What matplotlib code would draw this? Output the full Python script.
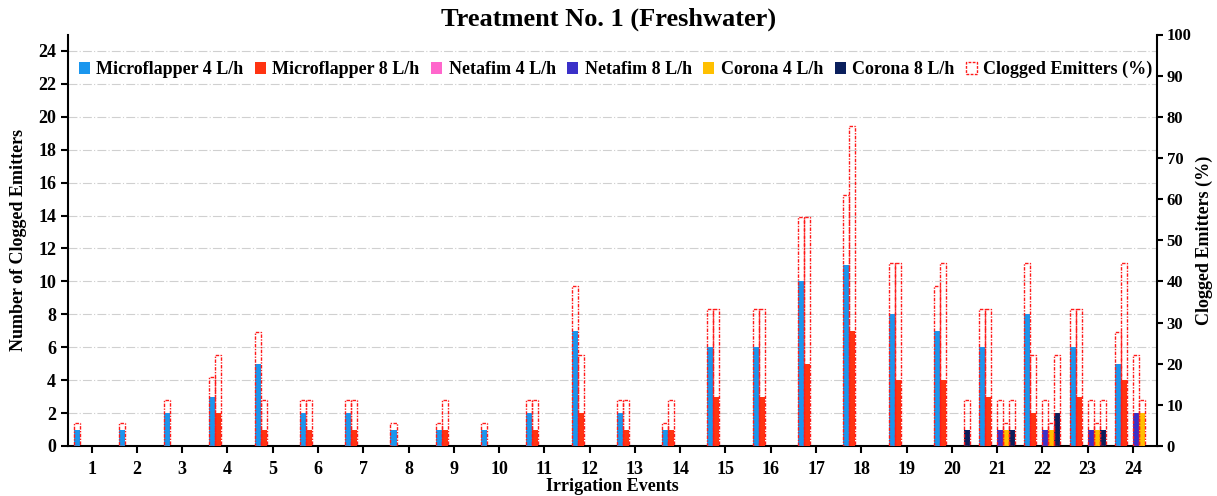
import matplotlib
matplotlib.use("Agg")
import matplotlib.pyplot as plt
import numpy as np
from matplotlib.patches import Patch

plt.rcParams['font.family'] = ['Liberation Serif', 'DejaVu Serif']
plt.rcParams['font.weight'] = 'bold'

events = [str(i) for i in range(1, 25)]
series_names = ["Microflapper 4 L/h", "Microflapper 8 L/h", "Netafim 4 L/h",
                "Netafim 8 L/h", "Corona 4 L/h", "Corona 8 L/h"]
colors = ["#1a96ee", "#ff3311", "#ff66cc", "#3a30c8", "#ffc000", "#0a1f5c"]

mf4 = [1, 1, 2, 3, 5, 2, 2, 1, 1, 1, 2, 7, 2, 1, 6, 6, 10, 11, 8, 7, 6, 8, 6, 5]
mf8 = [0, 0, 0, 2, 1, 1, 1, 0, 1, 0, 1, 2, 1, 1, 3, 3, 5, 7, 4, 4, 3, 2, 3, 4]
nf4 = [0] * 24
nf8 = [0] * 20 + [1, 1, 1, 2]
co4 = [0] * 20 + [1, 1, 1, 2]
co8 = [0] * 19 + [1, 1, 2, 1, 0]

mf4_pct = [5.6, 5.6, 11.1, 16.7, 27.8, 11.1, 11.1, 5.6, 5.6, 5.6, 11.1, 38.9,
           11.1, 5.6, 33.3, 33.3, 55.6, 61.1, 44.4, 38.9, 33.3, 44.4, 33.3, 27.8]
mf8_pct = [0, 0, 0, 22.2, 11.1, 11.1, 11.1, 0, 11.1, 0, 11.1, 22.2,
           11.1, 11.1, 33.3, 33.3, 55.6, 77.8, 44.4, 44.4, 33.3, 22.2, 33.3, 44.4]
nf4_pct = [0] * 24
nf8_pct = [0] * 20 + [11.1, 11.1, 11.1, 22.2]
co4_pct = [0] * 20 + [5.6, 5.6, 5.6, 11.1]
co8_pct = [0] * 19 + [11.1, 11.1, 22.2, 11.1, 0]

counts = [mf4, mf8, nf4, nf8, co4, co8]
pcts = [mf4_pct, mf8_pct, nf4_pct, nf8_pct, co4_pct, co8_pct]

fig = plt.figure(figsize=(12.17, 4.96), dpi=100)
ax = fig.add_axes([68 / 1217, 1 - 446 / 496, (1157 - 68) / 1217, (446 - 34.5) / 496])
ax2 = ax.twinx()

x = np.arange(1, 25)
w = 0.1326
for j, (vals, c, name) in enumerate(zip(counts, colors, series_names)):
    ax.bar(x + (j - 2.5) * w, vals, width=w, color=c, label=name, zorder=3)

for j, vals in enumerate(pcts):
    v = np.array(vals, dtype=float)
    m = v > 0
    ax2.bar(x[m] + (j - 2.5) * w, v[m], width=w, facecolor='none',
            edgecolor='#ff1a1a', linestyle=(0, (2.5, 1, 1, 1)), linewidth=1.0, zorder=4)

ax.set_xlim(0.48, 24.53)
ax.set_ylim(0, 25)
ax2.set_ylim(0, 100)
ax.set_yticks(np.arange(0, 25, 2))
ax2.set_yticks(np.arange(0, 101, 10))
ax.set_xticks(x)
ax.set_xticklabels(events)

ax.yaxis.grid(True, color='#d0d0d0', linestyle=(0, (8, 2, 1, 2)), linewidth=0.8, zorder=0)
ax.set_axisbelow(True)

for a in (ax, ax2):
    a.spines['top'].set_visible(False)
    for s in ('left', 'right', 'bottom'):
        a.spines[s].set_linewidth(1.5)
    a.tick_params(axis='both', labelsize=13, width=1.5, length=5, direction='out')
ax2.tick_params(axis='y', labelsize=12, length=4, pad=3)
ax.spines['right'].set_visible(False)
ax2.spines['left'].set_visible(False)
ax2.spines['bottom'].set_visible(False)
ax.tick_params(axis='x', length=5, pad=6)

ax.set_xlabel("Irrigation Events", fontsize=13, fontweight='bold', labelpad=0)
ax.set_ylabel("Number of Clogged Emitters", fontsize=13, fontweight='bold', labelpad=8)
ax2.set_ylabel("Clogged Emitters (%)", fontsize=13, fontweight='bold', labelpad=3)
fig.suptitle("Treatment No. 1 (Freshwater)", fontsize=19, fontweight='bold', y=0.985)

handles = [Patch(facecolor=c, edgecolor='none') for c in colors]
handles.append(Patch(facecolor='none', edgecolor='#ff1a1a', linestyle=(0, (2, 1)), linewidth=1.0))
labels = series_names + ["Clogged Emitters (%)"]
ax.legend(handles, labels, loc='upper center', bbox_to_anchor=(0.503, 0.962), ncol=7,
          frameon=False, fontsize=13, handlelength=0.6, handleheight=0.6,
          handletextpad=0.35, columnspacing=0.65, borderaxespad=0.2)

fig.savefig("out.png", dpi=100)
